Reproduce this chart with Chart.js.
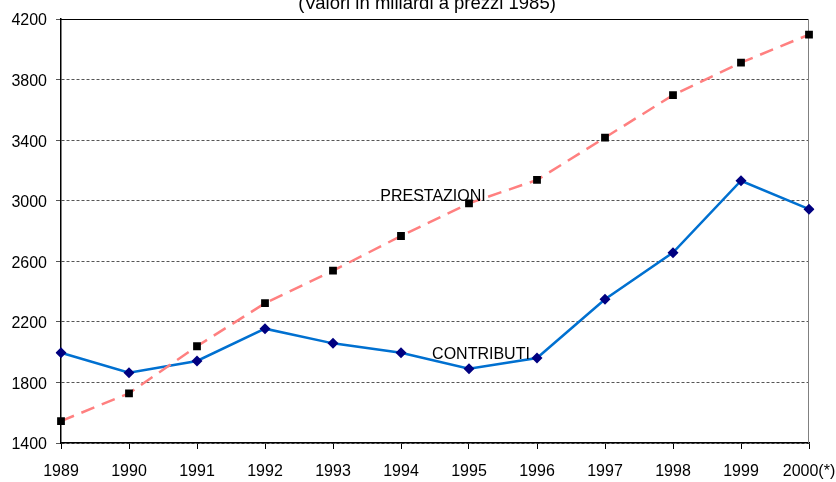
<!DOCTYPE html>
<html>
<head>
<meta charset="utf-8">
<script src="https://cdn.jsdelivr.net/npm/chart.js@4"></script>
<style>
  body { margin: 0; background: #fff; }
  #wrap { width: 836px; height: 482px; }
</style>
</head>
<body>
<div id="wrap"><canvas id="myChart" width="836" height="482"></canvas></div>
<script>
const anni = ["1989","1990","1991","1992","1993","1994","1995","1996","1997","1998","1999","2000(*)"];
const prestazioni = [1545, 1728, 2039, 2323, 2538, 2767, 2983, 3137, 3417, 3697, 3912, 4097];
const contributi = [1996, 1864, 1942, 2155, 2058, 1996, 1891, 1961, 2349, 2657, 3132, 2944];
const titolo = "(Valori in miliardi a prezzi 1985)";

const FONT = "'Liberation Sans', Arial, sans-serif";

// plot frame + series labels + title
const extraPlugin = {
  id: 'extra',
  beforeDatasetsDraw(chart) {
    const ctx = chart.ctx, a = chart.chartArea;
    ctx.save();
    ctx.lineWidth = 1;
    ctx.strokeStyle = '#000';
    ctx.beginPath();
    ctx.moveTo(a.left, a.top + 0.5);
    ctx.lineTo(a.right, a.top + 0.5);
    ctx.stroke();
    ctx.strokeStyle = '#808080';
    ctx.beginPath();
    ctx.moveTo(a.right - 0.5, a.top);
    ctx.lineTo(a.right - 0.5, a.bottom);
    ctx.stroke();
    ctx.restore();
  },
  afterDatasetsDraw(chart) {
    const ctx = chart.ctx;
    const x = chart.scales.x, y = chart.scales.y;
    ctx.save();
    ctx.fillStyle = '#000';
    ctx.font = "16px " + FONT;
    ctx.textAlign = 'center';
    ctx.textBaseline = 'alphabetic';
    ctx.fillText("PRESTAZIONI", x.getPixelForValue(5) + 32, y.getPixelForValue(2998));
    ctx.fillText("CONTRIBUTI", x.getPixelForValue(6) + 12, y.getPixelForValue(1955));
    ctx.font = "18.5px " + FONT;
    ctx.fillText(titolo, 427, 9);
    ctx.restore();
  }
};

const data = {
  labels: anni,
  datasets: [
    {
      label: "PRESTAZIONI",
      data: prestazioni,
      borderColor: '#ff8080',
      borderWidth: 2.5,
      borderDash: [14, 8],
      pointStyle: 'rect',
      pointRadius: 5.5,
      pointBackgroundColor: '#000',
      pointBorderColor: '#000',
      pointBorderWidth: 0,
      tension: 0
    },
    {
      label: "CONTRIBUTI",
      data: contributi,
      borderColor: '#0070d0',
      borderWidth: 2.5,
      pointStyle: 'rectRot',
      pointRadius: 5.5,
      pointBackgroundColor: '#000080',
      pointBorderColor: '#000080',
      pointBorderWidth: 0,
      tension: 0
    }
  ]
};

const config = {
  type: 'line',
  data: data,
  plugins: [extraPlugin],
  options: {
    responsive: false,
    animation: false,
    layout: { padding: { top: 19, right: 27, left: 0, bottom: 0 } },
    plugins: {
      legend: { display: false },
      tooltip: { enabled: false }
    },
    scales: {
      x: {
        offset: false,
        afterFit: s => { s.height = 39; s.paddingLeft = 0; s.paddingRight = 0; },
        border: { color: '#000', width: 1.5 },
        grid: { drawOnChartArea: false, color: '#000', tickLength: 6 },
        ticks: { color: '#000', font: { family: FONT, size: 16 }, padding: 13, maxRotation: 0, autoSkip: false }
      },
      y: {
        min: 1400,
        max: 4200,
        afterFit: s => { s.width = 61; s.paddingTop = 0; s.paddingBottom = 0; },
        border: { color: '#000', width: 1.5, dash: [3, 2] },
        grid: { color: '#555', lineWidth: 1, tickLength: 5 },
        ticks: {
          stepSize: 400,
          color: '#000',
          font: { family: FONT, size: 16 },
          padding: 9,
          labelOffset: 2,
          callback: v => String(v)
        }
      }
    }
  }
};

const myChart = new Chart(document.getElementById('myChart'), config);
</script>
</body>
</html>
